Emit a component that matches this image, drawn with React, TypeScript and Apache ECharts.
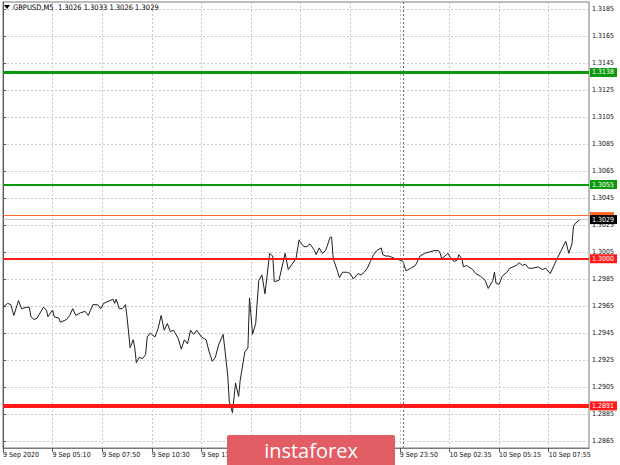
import React, { useEffect, useRef } from "react";
import * as echarts from "echarts";

// bar index (M5 bars, 0 = 9 Sep 02:30) and close price
const barIndex = [
  0, 3, 5, 7, 10, 12, 15, 17, 18, 20,
  22, 26, 28, 29, 32, 33, 36, 37, 41, 43,
  45, 47, 50, 53, 55, 58, 61, 63, 65, 69,
  71, 72, 73, 75, 77, 79, 80, 82, 84, 85,
  86, 88, 90, 92, 93, 95, 98, 100, 102, 104,
  106, 108, 110, 113, 115, 117, 119, 121, 123, 125,
  128, 131, 133, 135, 137, 139, 142, 143, 145, 146,
  148, 150, 152, 153, 156, 158, 159, 161, 163, 165,
  167, 169, 172, 174, 175, 178, 182, 184, 189, 191,
  192, 194, 196, 198, 201, 202, 204, 206, 208, 209,
  211, 212, 213, 216, 217, 219, 222, 224, 226, 229,
  231, 233, 235, 237, 239, 241, 244, 245, 247, 249,
  253, 256, 258, 260, 263, 266, 269, 272, 275, 278,
  281, 282, 283, 287, 289, 291, 293, 294, 296, 297,
  299, 303, 305, 308, 311, 313, 316, 317, 318, 320,
  322, 325, 327, 331, 333, 335, 337, 339, 342, 345,
  348, 350, 353, 355, 357, 360, 363, 365, 367, 368,
  369, 371, 372,
];
const closePrices = [
  1.2964, 1.2967, 1.2966, 1.2958, 1.2969, 1.2963, 1.2964, 1.2964, 1.2957, 1.2955,
  1.2956, 1.2964, 1.2962, 1.2957, 1.2962, 1.2957, 1.2956, 1.2953, 1.2955, 1.2958,
  1.2963, 1.2958, 1.2960, 1.2961, 1.2958, 1.2966, 1.2966, 1.2963, 1.2967, 1.2969,
  1.2970, 1.2967, 1.2970, 1.2963, 1.2963, 1.2966, 1.2957, 1.2934, 1.2940, 1.2934,
  1.2923, 1.2927, 1.2926, 1.2929, 1.2942, 1.2945, 1.2942, 1.2948, 1.2958, 1.2947,
  1.2952, 1.2946, 1.2947, 1.2941, 1.2933, 1.2940, 1.2937, 1.2947, 1.2944, 1.2947,
  1.2942, 1.2940, 1.2931, 1.2924, 1.2927, 1.2936, 1.2944, 1.2934, 1.2913, 1.2894,
  1.2886, 1.2908, 1.2898, 1.2910, 1.2931, 1.2934, 1.2971, 1.2944, 1.2952, 1.2984,
  1.2988, 1.2974, 1.3004, 1.3002, 1.2983, 1.2984, 1.3004, 1.2992, 1.3000, 1.3014,
  1.3012, 1.3009, 1.3009, 1.3011, 1.3006, 1.3003, 1.3008, 1.3004, 1.3006, 1.3009,
  1.3016, 1.3016, 1.3000, 1.2990, 1.2986, 1.2990, 1.2990, 1.2989, 1.2985, 1.2989,
  1.2988, 1.2990, 1.2993, 1.2998, 1.3003, 1.3006, 1.3008, 1.3003, 1.3002, 1.3002,
  1.3000, 1.2999, 1.2998, 1.2991, 1.2993, 1.2995, 1.3002, 1.3004, 1.3005, 1.3006,
  1.3006, 1.3004, 1.3000, 1.3004, 1.3000, 1.2998, 1.2999, 1.3003, 1.3000, 1.2994,
  1.2995, 1.2992, 1.2989, 1.2987, 1.2984, 1.2978, 1.2984, 1.2990, 1.2982, 1.2981,
  1.2987, 1.2990, 1.2993, 1.2995, 1.2997, 1.2995, 1.2996, 1.2993, 1.2993, 1.2994,
  1.2992, 1.2993, 1.2989, 1.2994, 1.2999, 1.3006, 1.3013, 1.3004, 1.3011, 1.3024,
  1.3026, 1.3028, 1.3029,
];

const xTickBars = [0, 32, 64, 96, 128, 160, 192, 224, 256, 288, 320, 352];
const xTickLabels = [
  "9 Sep 2020", "9 Sep 05:10", "9 Sep 07:50", "9 Sep 10:30", "9 Sep 13:10", "9 Sep 15:50",
  "9 Sep 18:30", "9 Sep 21:10", "9 Sep 23:50", "10 Sep 02:35", "10 Sep 05:15", "10 Sep 07:55",
];
// tick labels fully covered by the watermark in the reference
const xTicksUnderWatermark = [160, 192, 224];
const yTickValues = [
  1.2865, 1.2885, 1.2905, 1.2925, 1.2945, 1.2965, 1.2985, 1.3005, 1.3025,
  1.3045, 1.3065, 1.3085, 1.3105, 1.3125, 1.3145, 1.3165, 1.3185,
];
const levelPrices = [1.3138, 1.3055, 1.3032, 1.3, 1.2891];
const levelColors = ["#0b9a0b", "#0b9a0b", "#ff6a2a", "#ff1a1a", "#ff1a1a"];
const levelWidths = [3, 2, 1, 2, 4];
// the orange level's tag is covered by the bid tag in the reference
const levelTagHidden = [false, false, true, false, false];
const bidPrice = 1.3029;
const daySeparatorBar = 258;
const headerText = "GBPUSD,M5  1.3026 1.3033 1.3026 1.3029";
const watermarkText = "instaforex";

const FONT = "'DejaVu Sans Condensed', 'DejaVu Sans', sans-serif";

export default function App() {
  const ref = useRef<HTMLDivElement>(null);
  useEffect(() => {
    if (!ref.current) return;
    const chart = echarts.init(ref.current, null, { renderer: "svg" });
    const data = barIndex.map((b, i) => [b, closePrices[i]]);
    const priceLabel = (text: string, bg: string) => ({
      show: true,
      position: "end",
      distance: 1,
      formatter: () => text,
      backgroundColor: bg,
      color: "#fff",
      fontSize: 7,
      fontFamily: FONT,
      padding: [1, 3, 1, 2],
    });
    const levelLines: any[] = levelPrices.map((p, i) => ({
      yAxis: p,
      lineStyle: { color: levelColors[i], width: levelWidths[i], type: "solid" },
      label: levelTagHidden[i]
        ? {
            show: true,
            position: "end",
            distance: 1,
            formatter: () => " ",
            backgroundColor: levelColors[i],
            width: 24,
            height: 7,
            padding: 0,
            fontSize: 7,
          }
        : priceLabel(p.toFixed(4), levelColors[i]),
    }));
    levelLines.push({
      yAxis: bidPrice,
      lineStyle: { color: "#c8c8c8", width: 1, type: "solid" },
      label: priceLabel(bidPrice.toFixed(4), "#000"),
    });
    levelLines.push({
      xAxis: daySeparatorBar,
      lineStyle: { color: "#707070", width: 1, type: [2, 2] },
      label: { show: false },
    });

    chart.setOption({
      animation: false,
      backgroundColor: "#fff",
      grid: {
        left: 2,
        top: 2,
        right: 31,
        bottom: 17,
        show: true,
        borderColor: "#7a7a7a",
        borderWidth: 1,
        backgroundColor: "#fff",
      },
      xAxis: {
        type: "value",
        min: 0,
        max: 378,
        axisLine: { show: true, lineStyle: { color: "#7a7a7a" } },
        axisTick: { show: true, customValues: xTickBars, length: 4, lineStyle: { color: "#555" } },
        axisLabel: {
          customValues: xTickBars,
          formatter: (v: number) => {
            const b = Math.round(v);
            if (xTicksUnderWatermark.indexOf(b) >= 0) return "";
            return xTickLabels[xTickBars.indexOf(b)] ?? "";
          },
          align: "left",
          margin: 3,
          fontSize: 7,
          fontFamily: FONT,
          color: "#111",
        },
        splitLine: { show: true, lineStyle: { color: "#c8c8c8", type: [2, 2], width: 1 } },
      },
      yAxis: {
        type: "value",
        position: "right",
        min: 1.28598,
        max: 1.31902,
        axisLine: { show: true, lineStyle: { color: "#555" } },
        axisTick: { show: true, customValues: yTickValues, length: 3, lineStyle: { color: "#555" } },
        axisLabel: {
          customValues: yTickValues,
          formatter: (v: number) => v.toFixed(4),
          margin: 3,
          fontSize: 7,
          fontFamily: FONT,
          color: "#111",
        },
        splitLine: { show: true, lineStyle: { color: "#c8c8c8", type: [2, 2], width: 1 } },
      },
      series: [
        {
          type: "line",
          data,
          showSymbol: false,
          lineStyle: { color: "#1e1e1e", width: 1 },
          markLine: {
            symbol: "none",
            silent: true,
            animation: false,
            precision: 5,
            data: levelLines,
          },
        },
      ],
      graphic: [
        {
          type: "polygon",
          shape: { points: [[4, 5], [10, 5], [7, 9]] },
          style: { fill: "#000" },
          z: 100,
        },
        {
          type: "text",
          x: 13,
          y: 7.5,
          style: {
            text: headerText,
            fontSize: 7.5,
            fontFamily: FONT,
            fill: "#000",
            verticalAlign: "middle",
          },
          z: 100,
        },
        {
          type: "rect",
          shape: { x: 227, y: 435, width: 168, height: 32, r: 2 },
          style: { fill: "rgb(226,94,100)" },
          z: 100,
        },
        {
          type: "text",
          x: 311,
          y: 450,
          style: {
            text: watermarkText,
            fontSize: 20,
            fontFamily: "'Open Sans', sans-serif",
            fill: "#fff",
            align: "center",
            verticalAlign: "middle",
          },
          z: 101,
        },
      ],
    });
    return () => chart.dispose();
  }, []);
  return (
    <div
      ref={ref}
      style={{ position: "absolute", left: 0, top: 0, width: 620, height: 465 }}
    />
  );
}
